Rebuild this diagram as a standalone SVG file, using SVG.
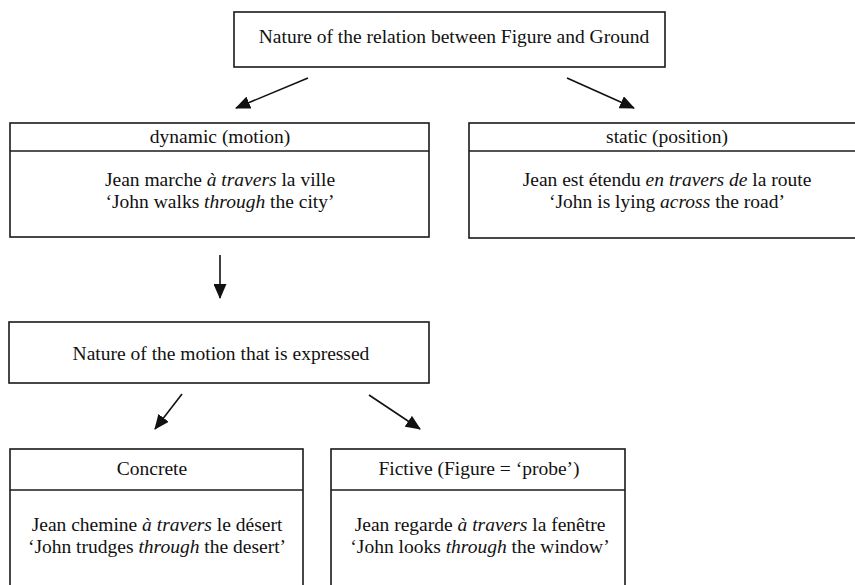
<svg xmlns="http://www.w3.org/2000/svg" width="855" height="585" viewBox="0 0 855 585">
<style>
  .box { fill: #ffffff; stroke: #1a1a1a; stroke-width: 1.6; }
  .div { stroke: #1a1a1a; stroke-width: 1.6; }
  .t { font-family: "Liberation Serif", "Times New Roman", "DejaVu Serif", serif; font-size: 19.5px; fill: #111; text-anchor: middle; }
  .i { font-style: italic; }
  .edge { stroke: #111; stroke-width: 1.6; fill: none; marker-end: url(#arrow); }
</style>
<defs>
  <marker id="arrow" markerWidth="15" markerHeight="13" refX="14" refY="6.5" orient="auto" markerUnits="userSpaceOnUse">
    <path d="M0,0 L15,6.5 L0,13 Z" fill="#111"/>
  </marker>
</defs>
<rect width="855" height="585" fill="#ffffff"/>

<g id="connectors">
  <line class="edge" x1="308" y1="78" x2="236" y2="108"/>
  <line class="edge" x1="567" y1="78" x2="634" y2="108"/>
  <line class="edge" x1="220" y1="255" x2="220" y2="298"/>
  <line class="edge" x1="182" y1="394" x2="155" y2="429"/>
  <line class="edge" x1="369" y1="395" x2="420" y2="429"/>
</g>

<g id="root">
  <rect class="box" x="234" y="12" width="431" height="55"/>
  <text class="t" x="454" y="43">Nature of the relation between Figure and Ground</text>
</g>

<g id="dynamic">
  <rect class="box" x="10" y="123" width="419" height="114"/>
  <line class="div" x1="10" y1="151" x2="429" y2="151"/>
  <text class="t" x="220" y="143">dynamic (motion)</text>
  <text class="t" x="220" y="186">Jean marche <tspan class="i">à travers</tspan> la ville</text>
  <text class="t" x="220" y="208">‘John walks <tspan class="i">through</tspan> the city’</text>
</g>

<g id="static">
  <rect class="box" x="469" y="123" width="400" height="115"/>
  <line class="div" x1="469" y1="151" x2="869" y2="151"/>
  <text class="t" x="667" y="143">static (position)</text>
  <text class="t" x="667" y="186">Jean est étendu <tspan class="i">en travers de</tspan> la route</text>
  <text class="t" x="667" y="208">‘John is lying <tspan class="i">across</tspan> the road’</text>
</g>

<g id="motion">
  <rect class="box" x="9" y="322" width="420" height="61"/>
  <text class="t" x="221" y="360">Nature of the motion that is expressed</text>
</g>

<g id="concrete">
  <rect class="box" x="10" y="449" width="293" height="150"/>
  <line class="div" x1="10" y1="490" x2="303" y2="490"/>
  <text class="t" x="152" y="475">Concrete</text>
  <text class="t" x="157" y="531">Jean chemine <tspan class="i">à travers</tspan> le désert</text>
  <text class="t" x="157" y="553">‘John trudges <tspan class="i">through</tspan> the desert’</text>
</g>

<g id="fictive">
  <rect class="box" x="331" y="449" width="294" height="150"/>
  <line class="div" x1="331" y1="490" x2="625" y2="490"/>
  <text class="t" x="479" y="475">Fictive (Figure = ‘probe’)</text>
  <text class="t" x="480" y="531">Jean regarde <tspan class="i">à travers</tspan> la fenêtre</text>
  <text class="t" x="480" y="553">‘John looks <tspan class="i">through</tspan> the window’</text>
</g>
</svg>
